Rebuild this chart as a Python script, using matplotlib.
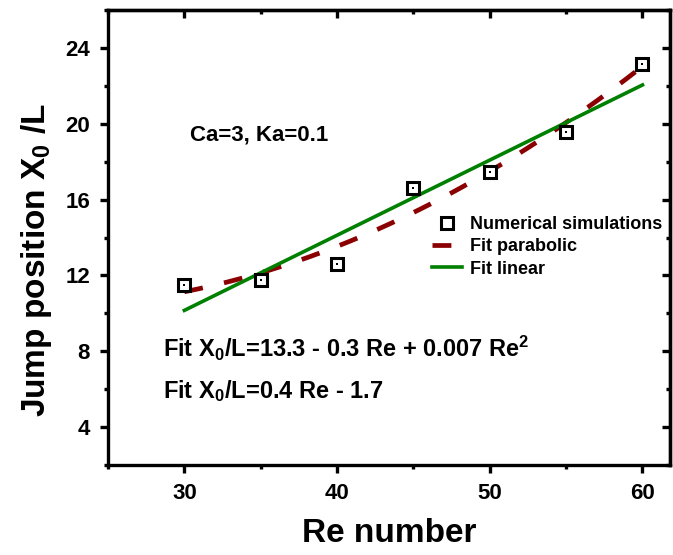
import numpy as np
import matplotlib
matplotlib.use("Agg")
import matplotlib.pyplot as plt
from matplotlib.ticker import MultipleLocator

# jump position versus Reynolds number (Ca=3, Ka=0.1)
re_number = [30, 35, 40, 45, 50, 55, 60]
jump_pos = [11.5, 11.75, 12.63, 16.63, 17.47, 19.58, 23.16]

x_ticks = [30, 40, 50, 60]
y_ticks = [4, 8, 12, 16, 20, 24]

plt.rcParams['font.family'] = ['Liberation Sans', 'DejaVu Sans']
plt.rcParams['font.weight'] = 'bold'
plt.rcParams['mathtext.fontset'] = 'custom'
plt.rcParams['mathtext.rm'] = 'Liberation Sans:bold'
plt.rcParams['mathtext.it'] = 'Liberation Sans:bold'
plt.rcParams['mathtext.bf'] = 'Liberation Sans:bold'
plt.rcParams['mathtext.default'] = 'rm'

fig = plt.figure(figsize=(6.73, 5.55), dpi=100)
ax = fig.add_axes([0.1605, 0.162, 0.835, 0.82])

# least squares fits of the simulation points
re_fine = np.linspace(min(re_number), max(re_number), 200)
par = np.polyfit(re_number, jump_pos, 2)
lin = np.polyfit(re_number, jump_pos, 1)

ax.plot(re_number, jump_pos, ls='none', marker='s', ms=9, mfc='white',
        mec='black', mew=2.2, label='Numerical simulations', zorder=4)
ax.plot(re_number, jump_pos, ls='none', marker='s', ms=1.5, mfc='black',
        mec='black', mew=0, zorder=5)
ax.plot(re_fine, np.polyval(par, re_fine), color='#8b0000', lw=3.4,
        dashes=(4.0, 4.6), label='Fit parabolic', zorder=3)
ax.plot(re_fine, np.polyval(lin, re_fine), color='#008000', lw=2.6,
        label='Fit linear', zorder=3)

ax.set_xlim(25, 61.8)
ax.set_ylim(2, 26)
ax.set_xticks(x_ticks)
ax.set_yticks(y_ticks)
ax.xaxis.set_minor_locator(MultipleLocator(5))
ax.yaxis.set_minor_locator(MultipleLocator(2))

for s in ax.spines.values():
    s.set_linewidth(2.4)
ax.tick_params(which='major', direction='out', length=6, width=2.4,
               labelsize=16, pad=7)
ax.tick_params(which='minor', direction='out', length=3, width=2.4)

# inward ticks on the top and right frame
top = ax.secondary_xaxis('top')
right = ax.secondary_yaxis('right')
top.set_xticks(x_ticks)
right.set_yticks(y_ticks)
top.xaxis.set_minor_locator(MultipleLocator(5))
right.yaxis.set_minor_locator(MultipleLocator(2))
for sec in (top, right):
    sec.tick_params(which='major', direction='in', length=6, width=2.4,
                    labelleft=False, labelright=False, labeltop=False)
    sec.tick_params(which='minor', direction='in', length=3, width=2.4)
    for s in sec.spines.values():
        s.set_linewidth(2.4)

ax.set_xlabel('Re number', fontsize=24, fontweight='bold', labelpad=10)
ax.set_ylabel(r'Jump position X$_0$ /L', fontsize=24, fontweight='bold',
              labelpad=8)
ax.yaxis.label.set_y(0.45)

ax.text(0.146, 0.714, 'Ca=3, Ka=0.1', transform=ax.transAxes,
        fontsize=16, fontweight='bold', va='baseline')
ax.text(0.098, 0.237, r'Fit X$_0$/L=13.3 - 0.3 Re + 0.007 Re$^2$',
        transform=ax.transAxes, fontsize=17, fontweight='bold',
        va='baseline')
ax.text(0.098, 0.147, r'Fit X$_0$/L=0.4 Re - 1.7',
        transform=ax.transAxes, fontsize=17, fontweight='bold',
        va='baseline')

ax.legend(loc='upper left', bbox_to_anchor=(0.642, 0.611),
          bbox_transform=fig.transFigure, frameon=False,
          prop={'weight': 'bold', 'size': 13}, handlelength=1.67,
          handletextpad=0.45, labelspacing=0.3, borderpad=0,
          borderaxespad=0)

fig.savefig('out.png', dpi=100)
